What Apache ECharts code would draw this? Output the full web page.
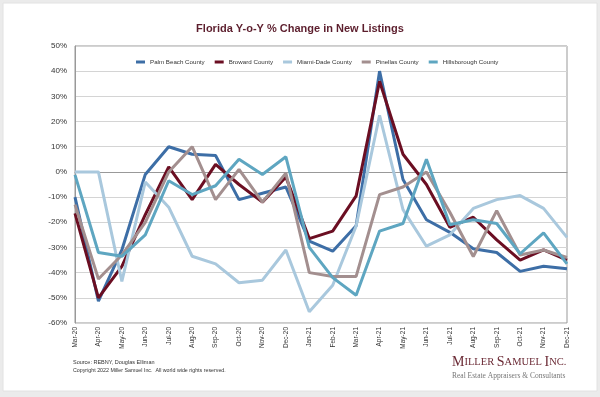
<!DOCTYPE html>
<html>
<head>
<meta charset="utf-8">
<script src="https://cdn.jsdelivr.net/npm/echarts@6/dist/echarts.min.js"></script>
<style>
    html, body { margin: 0; padding: 0; background: #ebebeb; }
    #main { width: 600px; height: 397px; }
</style>
</head>
<body>
<div id="main"></div>
<script>
// 月份
var months = ["Mar-20", "Apr-20", "May-20", "Jun-20", "Jul-20", "Aug-20", "Sep-20", "Oct-20", "Nov-20", "Dec-20",
    "Jan-21", "Feb-21", "Mar-21", "Apr-21", "May-21", "Jun-21", "Jul-21", "Aug-21", "Sep-21", "Oct-21", "Nov-21", "Dec-21"];

// 各县同比变化 (%)
var palmBeach = [-10, -51.3, -31, -1, 10, 7, 6.5, -11, -8.5, -6, -27.5, -31.5, -21.4, 40, -3, -19, -24, -30.5, -32, -39.5, -37.5, -38.5];
var broward = [-16.5, -50, -37.5, -17, 2, -11, 3, -5, -12, -2, -26.5, -23.5, -9.5, 36, 7, -5, -22, -18, -27, -35, -31, -35];
var miamiDade = [0, 0, -43.5, -4, -14, -33.5, -36.5, -44, -43, -31, -55.5, -45, -21.5, 22.5, -15, -29.5, -25, -14.5, -11, -9.4, -14.5, -26];
var pinellas = [-13, -42.5, -33, -20, 0, 10, -11, 1, -12, -0.5, -40, -41.5, -41.5, -9, -6, 0, -16, -33.6, -15.4, -33, -31, -34];
var hillsborough = [-1.2, -32, -33.5, -25, -3.5, -9, -5.5, 5, -1, 6, -30, -42, -49, -23.5, -20.5, 5, -21, -19, -20.5, -32.5, -24.2, -36.5];

var seriesNames = ["Palm Beach County", "Broward County", "Miami-Dade County", "Pinellas County", "Hillsborough County"];
var seriesColors = ["#3d6ea6", "#6b0e22", "#a9c8dd", "#a38f8f", "#5ea6c1"];
var seriesData = [palmBeach, broward, miamiDade, pinellas, hillsborough];

var myChart = echarts.init(document.getElementById('main'));

var series = seriesNames.map(function(name, i) {
    return {
        name: name,
        type: 'line',
        data: seriesData[i],
        symbol: 'none',
        lineStyle: { width: 3, color: seriesColors[i] },
        itemStyle: { color: seriesColors[i] }
    };
});

var option = {
    backgroundColor: '#ebebeb',
    animation: false,
    color: seriesColors,
    graphic: [
        {
            type: 'rect',
            shape: { x: 3, y: 3, width: 594, height: 388 },
            style: { fill: '#ffffff', stroke: '#e2e2e2', lineWidth: 1 },
            z: -10
        },
        {
            type: 'text', left: 73, top: 359,
            style: { text: 'Source: REBNY, Douglas Elliman', fill: '#333', font: '5.5px "Liberation Sans", Arial, sans-serif' }
        },
        {
            type: 'text', left: 73, top: 368,
            style: { text: 'Copyright 2022 Miller Samuel Inc.  All world wide rights reserved.', fill: '#333', font: '5.3px "Liberation Sans", Arial, sans-serif' }
        },
        {
            type: 'text', left: 452, top: 355,
            style: {
                text: '{b|M}{s|ILLER }{b|S}{s|AMUEL }{b|I}{s|NC.}',
                rich: {
                    b: { fontFamily: '"Liberation Serif", "DejaVu Serif", serif', fontSize: 14, fill: '#6b2a35' },
                    s: { fontFamily: '"Liberation Serif", "DejaVu Serif", serif', fontSize: 10.5, fill: '#6b2a35' }
                }
            }
        },
        {
            type: 'text', left: 452, top: 372,
            style: { text: 'Real Estate Appraisers & Consultants', fill: '#777', font: '7.5px "Liberation Serif", "DejaVu Serif", serif' }
        }
    ],
    title: {
        text: 'Florida Y-o-Y % Change in New Listings',
        left: 'center',
        top: 18,
        textStyle: {
            color: '#5c1e2d',
            fontFamily: '"Liberation Sans", Arial, sans-serif',
            fontWeight: 'bold',
            fontSize: 11
        }
    },
    legend: {
        data: seriesNames,
        left: 131,
        top: 54,
        icon: 'rect',
        itemWidth: 9,
        itemHeight: 3,
        itemGap: 10,
        textStyle: { fontSize: 6.2, color: '#333', fontFamily: '"Liberation Sans", Arial, sans-serif' }
    },
    grid: {
        left: 75,
        right: 33,
        top: 46,
        bottom: 74,
        show: true,
        borderColor: '#999',
        borderWidth: 1,
        containLabel: false
    },
    xAxis: {
        type: 'category',
        data: months,
        boundaryGap: false,
        axisLine: { lineStyle: { color: '#999' } },
        axisTick: { show: false },
        axisLabel: {
            rotate: 90,
            fontSize: 6.5,
            color: '#333',
            margin: 4,
            interval: 0,
            fontFamily: '"Liberation Sans", Arial, sans-serif'
        },
        splitLine: { show: false }
    },
    yAxis: {
        type: 'value',
        min: -60,
        max: 50,
        interval: 10,
        axisLine: { show: true, lineStyle: { color: '#999' } },
        axisTick: { show: false },
        axisLabel: {
            formatter: '{value}%',
            fontSize: 8,
            color: '#333',
            margin: 8,
            fontFamily: '"Liberation Sans", Arial, sans-serif'
        },
        splitLine: { lineStyle: { color: '#d4d4d4', width: 1 } }
    },
    series: series
};

myChart.setOption(option);
</script>
</body>
</html>
